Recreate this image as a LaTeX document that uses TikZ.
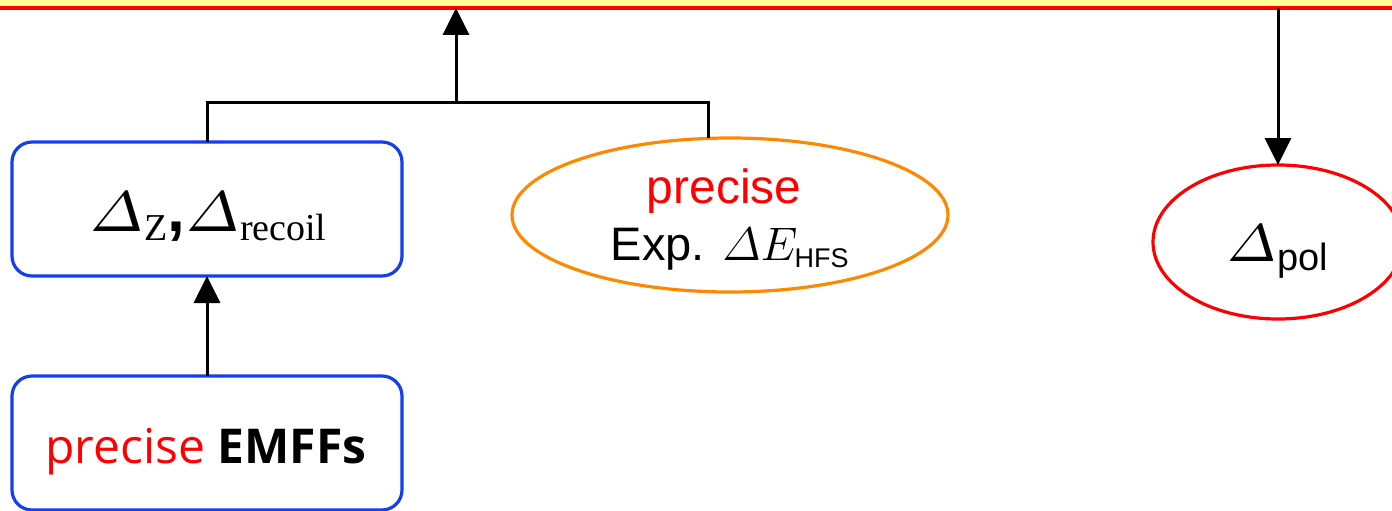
\RequirePackage{fix-cm}
\documentclass[tikz,border=0pt]{standalone}
\usepackage{amsmath}
\usepackage{graphicx}
\usepackage{fontspec}
\setmainfont{Liberation Sans}
\newfontfamily\opensans{Open Sans}
\newfontfamily\timesf{Liberation Serif}
\usetikzlibrary{arrows.meta,shapes.geometric}

\definecolor{boxblue}{RGB}{20,62,240}
\definecolor{ellorange}{RGB}{255,136,0}
\definecolor{barred}{RGB}{255,0,0}
\definecolor{baryellow}{RGB}{255,255,153}

% heavy italic Delta: small design size of the math italic, enlarged
\newcommand\heavyDelta[1]{\scalebox{#1}{\fontsize{7}{7}\selectfont$\varDelta$}}
\newcommand\lowsub[2]{\raisebox{-#1}{#2}}

\tikzset{
  conn/.style={line width=3pt, draw=black},
  arr/.style={conn, -{Triangle[length=27pt,width=26pt]}},
  roundbox/.style={draw=boxblue, line width=3.2pt, rounded corners=20pt,
    minimum width=390pt, minimum height=134pt, inner sep=0pt, outer sep=0pt},
  oval/.style={ellipse, line width=3.2pt, inner sep=0pt, outer sep=0pt},
  lbl/.style={anchor=base, inner sep=0pt},
}

\begin{document}
\begin{tikzpicture}[x=1pt, y=-1pt]
\useasboundingbox (0,0) rectangle (1392,511);

% result bar along the top edge
\node[draw=barred, fill=baryellow, line width=4pt, minimum width=1440pt,
      minimum height=60pt, inner sep=0pt, outer sep=0pt, anchor=south]
      (sum) at (696,8) {};

% shapes
\node[roundbox] (zr) at (207,209) {};
\node[roundbox] (ff) at (207,443) {};
\node[oval, draw=ellorange, minimum width=436pt, minimum height=154pt] (hfs) at (730,215) {};
\node[oval, draw=barred, minimum width=250pt, minimum height=154pt] (pol) at (1278,242) {};

% labels
\node[lbl] (zrt) at (208,231)
  {\heavyDelta{8.2}\lowsub{9pt}{\timesf\fontsize{38}{38}\selectfont Z}%
   {\fontsize{64}{64}\selectfont\textbf{,}}%
   \heavyDelta{8.2}\lowsub{9pt}{\timesf\fontsize{38}{38}\selectfont recoil}};
\node[lbl] (fft) at (206,463)
  {\opensans\fontsize{48}{48}\selectfont\textcolor{barred}{precise} \textbf{EMFFs}};
\node[lbl, text=barred] (hfs1) at (724,203) {\fontsize{48}{48}\selectfont precise};
\node[lbl] (hfs2) at (730,260)
  {\fontsize{47}{47}\selectfont Exp. $\varDelta E_{\text{\fontsize{27}{27}\selectfont HFS}}$};
\node[lbl] (polt) at (1277,261)
  {\heavyDelta{7.6}\lowsub{9pt}{\fontsize{38}{38}\selectfont pol}};

% connectors
\coordinate (jm) at (456,102);
\coordinate (jr) at (708,102);
\draw[conn] (zr.north) |- (jr) -- (jr |- hfs.north);
\draw[arr] (jm) -- (jm |- sum.south);
\draw[arr] (ff.north) -- (zr.south);
\draw[arr] (pol.north |- sum.south) -- (pol.north);
\end{tikzpicture}
\end{document}
